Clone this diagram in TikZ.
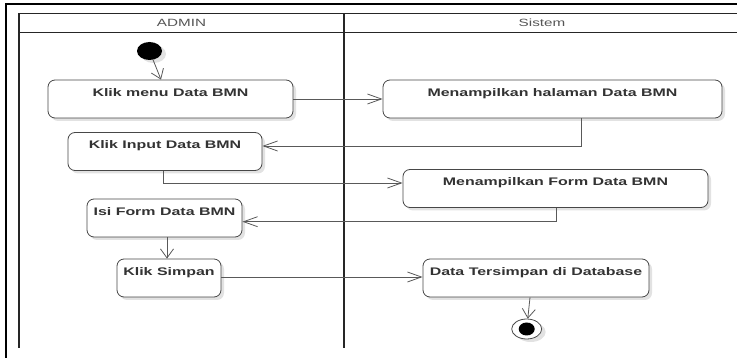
\documentclass[tikz,border=0pt]{standalone}
\usepackage{fontspec}
\setmainfont{Liberation Sans}[FakeStretch=1.45]
\usetikzlibrary{arrows.meta,shapes.geometric,shadows}

\definecolor{inkdark}{HTML}{333333}
\definecolor{inkmid}{HTML}{555555}
\definecolor{shade}{HTML}{E2E2E2}

\tikzset{
  frame/.style={draw=black, line width=2pt},
  lane/.style={draw=black!85, line width=1.6pt},
  lanetitle/.style={font=\fontsize{10.5}{12}\selectfont, text=inkmid, inner sep=0pt},
  act/.style={draw=black!72, line width=0.8pt, rounded corners=7pt, fill=white,
    font=\bfseries\fontsize{11}{13}\selectfont, text=inkdark,
    inner xsep=0pt, inner ysep=4pt, text height=12.5pt, text depth=17.5pt,
    drop shadow={shadow xshift=3pt, shadow yshift=-3pt, fill=shade, opacity=1}},
  initial/.style={ellipse, fill=black, inner sep=0pt, minimum width=25pt, minimum height=18pt,
    drop shadow={shadow xshift=4pt, shadow yshift=-3pt, fill=shade, opacity=1}},
  finalring/.style={ellipse, draw=black!70, line width=0.8pt, fill=white, inner sep=0pt,
    minimum width=30pt, minimum height=20pt,
    drop shadow={shadow xshift=4pt, shadow yshift=-3pt, fill=shade, opacity=1}},
  finaldot/.style={ellipse, fill=black, inner sep=0pt, minimum width=16pt, minimum height=13pt},
  hflow/.style={draw=black!65, line width=0.8pt, -{Straight Barb[length=14pt,width=10pt]}},
  vflow/.style={draw=black!65, line width=0.8pt, -{Straight Barb[length=9pt,width=13pt]}},
}

\begin{document}
\begin{tikzpicture}[x=1pt,y=-1pt]
\useasboundingbox (0,0) rectangle (737,358);

% outer frame
\draw[frame] (737,4) -- (6,4) -- (6,358);

% swimlanes
\draw[lane] (737,13.5) -- (19,13.5) -- (19,348);
\draw[lane] (19,32.5) -- (737,32.5);
\draw[lane] (344,13.5) -- (344,348);
\node[lanetitle] (tadmin) at (181.5,23) {ADMIN};
\node[lanetitle] (tsistem) at (542,23) {Sistem};

% activities
\node[act, minimum width=245pt] (n1) at (170.5,99)   {Klik menu Data BMN};
\node[act, minimum width=194pt] (n2) at (165,151.5)  {Klik Input Data BMN};
\node[act, minimum width=339pt] (n3) at (552.5,99)   {Menampilkan halaman Data BMN};
\node[act, minimum width=305pt] (n4) at (555.5,188.5){Menampilkan Form Data BMN};
\node[act, minimum width=155pt] (n5) at (164.5,218)  {Isi Form Data BMN};
\node[act, minimum width=104pt] (n6) at (169,278)    {Klik Simpan};
\node[act, minimum width=226pt] (n7) at (536,278)    {Data Tersimpan di Database};

% initial and final states
\node[initial] (start) at (149.5,51) {};
\node[finalring] (end) at (526.7,329) {};
\node[finaldot] (enddot) at (end) {};

% control flow
\draw[vflow] (start) -- ([xshift=-9.5pt]n1.north);
\draw[hflow] (n1.east) -- (n3.west);
\draw[hflow] ([xshift=28.5pt]n3.south) |- ([yshift=5.5pt]n2.east);
\draw[hflow] ([xshift=-2pt]n2.south) |- ([yshift=5.5pt]n4.west);
\draw[hflow] ([xshift=0.5pt]n4.south) |- ([yshift=-3.7pt]n5.east);
\draw[vflow] ([xshift=2.5pt]n5.south) -- ([xshift=-2pt]n6.north);
\draw[hflow] ([yshift=1pt]n6.east) -- ([yshift=1pt]n7.west);
\draw[vflow] ([xshift=-6pt]n7.south) -- (end);
\end{tikzpicture}
\end{document}
